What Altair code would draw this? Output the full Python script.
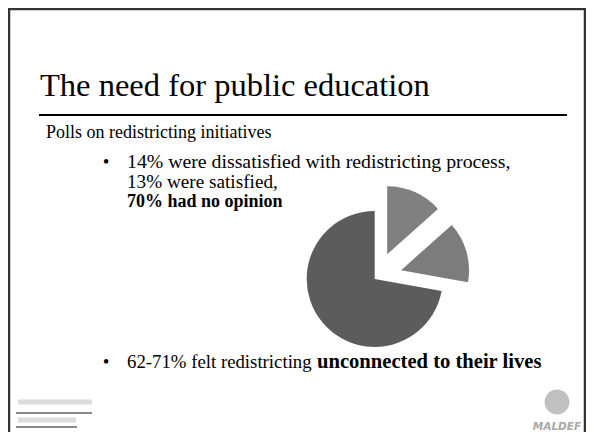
import math
import altair as alt
import pandas as pd

# ---- content ----
title_text = "The need for public education"
subtitle_text = "Polls on redistricting initiatives"
bullet1_lines = ["14% were dissatisfied with redistricting process,", "13% were satisfied,"]
bullet1_bold = "70% had no opinion"
bullet2_regular = "62-71% felt redistricting"
bullet2_bold = "unconnected to their lives"
logo_text = "MALDEF"

categories = ["Satisfied", "Dissatisfied", "No opinion"]
values = [13, 14, 70]
order = [0, 1, 2]
slice_colors = ["#808080", "#7c7c7c", "#5c5c5c"]

W, H = 578, 424
SERIF = "Liberation Serif"
one = pd.DataFrame({"k": [0]})


def rule(x, y, x2, y2, color, w):
    return alt.Chart(one).mark_rule(color=color, strokeWidth=w).encode(
        x=alt.value(x), y=alt.value(y), x2=alt.value(x2), y2=alt.value(y2)
    )


def txt(s, x, y, size, weight="normal", color="#000000", font=SERIF, align="left", style="normal"):
    return alt.Chart(pd.DataFrame({"t": [s]})).mark_text(
        align=align, baseline="alphabetic", font=font, fontSize=size,
        fontWeight=weight, color=color, fontStyle=style
    ).encode(x=alt.value(x), y=alt.value(y), text="t:N")


layers = []
# slide frame
layers += [
    rule(1, 0, 1, H, "#333333", 2.5),
    rule(0, 1, 578, 1, "#333333", 2.5),
    rule(577, 0, 577, H, "#333333", 2.5),
]
# title + underline
layers.append(txt(title_text, 32, 88, 32.5))
layers.append(rule(31, 107, 559, 107, "#000000", 2))
layers.append(txt(subtitle_text, 38, 130, 18))

# bullets
layers.append(txt("\u2022", 98, 160, 19, align="center"))
layers.append(txt(bullet1_lines[0], 119, 160, 19.8))
layers.append(txt(bullet1_lines[1], 119, 180, 19.2))
layers.append(txt(bullet1_bold, 119, 199, 18, weight="bold"))

layers.append(txt("\u2022", 98, 360, 19, align="center"))
layers.append(txt(bullet2_regular, 119, 360, 18.8))
layers.append(txt(bullet2_bold, 309, 360, 20.6, weight="bold"))

# pie
total = sum(values)
CX, CY, R = 369, 269, 68
pie_df = pd.DataFrame({"category": categories, "value": values, "order": order})
pie = (
    alt.Chart(pie_df)
    .transform_window(cum="sum(value)", sort=[alt.SortField("order")], frame=[None, 0])
    .transform_calculate(
        start="datum.cum - datum.value",
        mid=f"(datum.cum - datum.value / 2) / {total} * 2 * PI",
        d="datum.value > 50 ? 3 : 25",
    )
    .transform_calculate(
        px=f"{CX} + datum.d * sin(datum.mid)",
        py=f"{CY} - datum.d * cos(datum.mid)",
    )
    .mark_arc(outerRadius=R)
    .encode(
        theta=alt.Theta("start:Q", stack=None,
                        scale=alt.Scale(domain=[0, total], range=[0, 2 * math.pi])),
        theta2="cum:Q",
        x=alt.X("px:Q", scale=None, axis=None),
        y=alt.Y("py:Q", scale=None, axis=None),
        color=alt.Color("category:N", scale=alt.Scale(domain=categories, range=slice_colors),
                        legend=None),
    )
)
layers.append(pie)

# bottom-left logo (blurred text lines)
layers += [
    rule(10, 394, 84, 394, "#dcdcdc", 5),
    rule(8, 405, 84, 405, "#8a8a8a", 2),
    rule(10, 412, 68, 412, "#dcdcdc", 5),
    rule(8, 419, 69, 419, "#8a8a8a", 2),
]
# bottom-right logo
layers.append(
    alt.Chart(one).mark_point(filled=True, shape="circle", size=620, color="#c0c0c0", opacity=1)
    .encode(x=alt.value(549), y=alt.value(394))
)
layers.append(txt(logo_text, 549, 422, 10.5, weight="bold", color="#a8a8a8",
                  font="DejaVu Sans", align="center", style="italic"))

chart = (
    alt.layer(*layers)
    .properties(width=W, height=H, padding=0, autosize=alt.AutoSizeParams(type="none"))
    .configure_view(strokeWidth=0, stroke="transparent")
    .configure(background="#ffffff")
)
chart.save("out.html", embed_options={"renderer": "svg", "actions": False})
